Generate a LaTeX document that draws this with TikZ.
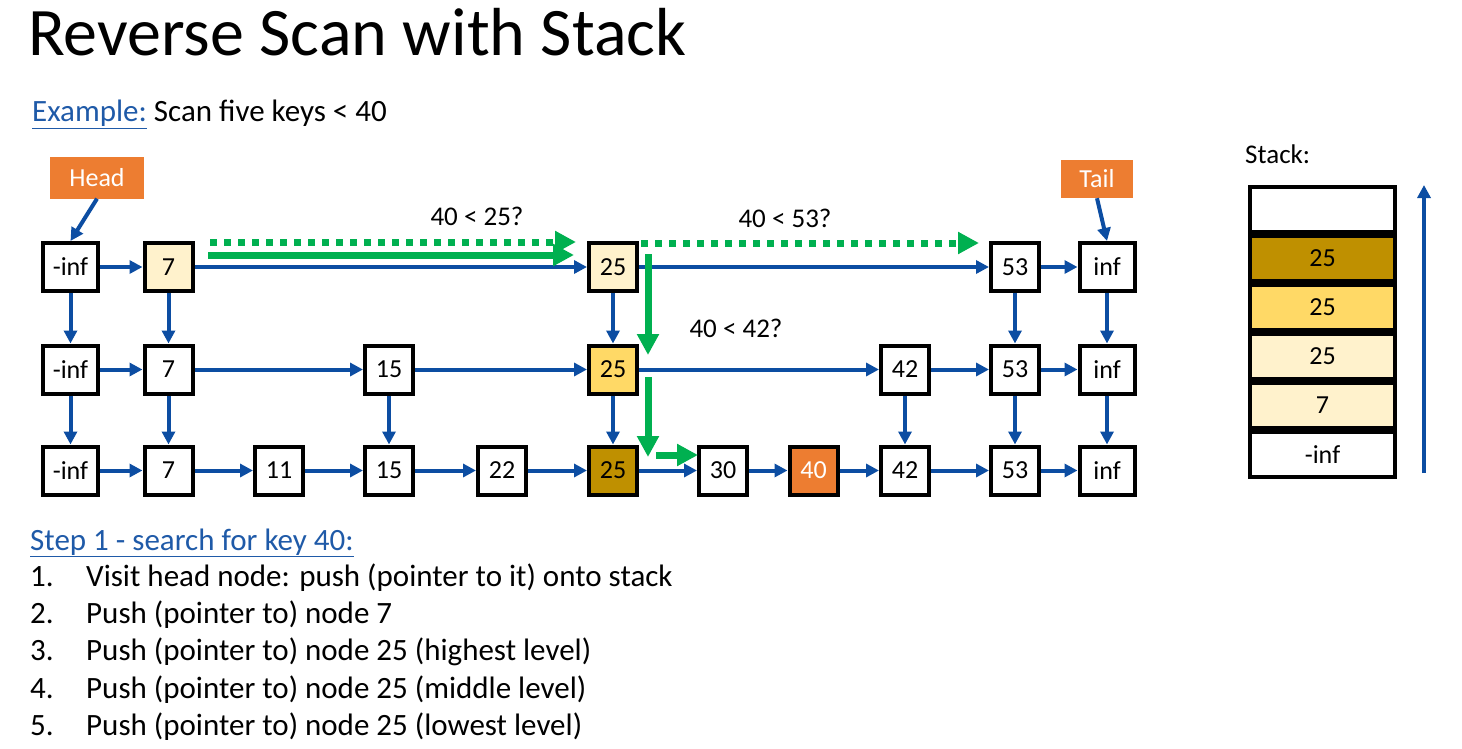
\documentclass[tikz,border=0pt]{standalone}
\usepackage{fontspec}
\setmainfont{Carlito}
\usetikzlibrary{arrows.meta}
\definecolor{lnk}{HTML}{0C4DA2}
\definecolor{ulblue}{HTML}{1F5AA8}
\definecolor{grn}{HTML}{00B050}
\definecolor{org}{HTML}{ED7D31}
\definecolor{pale}{HTML}{FFF2CC}
\definecolor{gold}{HTML}{FFD966}
\definecolor{dgold}{HTML}{BF9000}
\newcommand{\fs}[1]{\fontsize{#1}{#1}\selectfont}
\begin{document}
\begin{tikzpicture}[x=1pt,y=-1pt,
  key/.style={draw=black, line width=4pt, fill=white, minimum width=48pt,
    minimum height=48pt, inner sep=0pt, font=\fs{26}},
  wkey/.style={key, minimum width=55pt},
  tag/.style={fill=org, text=white, inner sep=0pt, font=\fs{26}},
  link/.style={draw=lnk, line width=4pt, -{Triangle[length=13pt,width=13pt]}},
  walk/.style={draw=grn, line width=7pt, -{Triangle[length=21pt,width=21pt]}},
  probe/.style={walk, dash pattern=on 7pt off 7pt},
  query/.style={font=\fs{27}, inner sep=0pt},
  cell/.style={draw=black, line width=4pt, minimum width=145pt, minimum height=45pt,
    inner sep=0pt, font=\fs{26}},
  txt/.style={anchor=base west, inner sep=0pt}]
\useasboundingbox (0,0) rectangle (1462,749);

% title and headings
\node[txt, font=\fs{68}] (title) at (28,56) {Reverse Scan with Stack};
\node[txt, font=\fs{31}] (ex) at (32,122) {{\color{ulblue}\underline{Example:}} Scan five keys < 40};

% top level
\node[wkey] (a1) at (70.5,267) {-inf};
\node[key, fill=pale] (b1) at (168.5,267) {7};
\node[key, fill=pale] (f1) at (613,267) {25};
\node[key] (j1) at (1015,267) {53};
\node[wkey] (k1) at (1107,267) {inf};
% middle level
\node[wkey] (a2) at (70.5,369.5) {-inf};
\node[key] (b2) at (168.5,369.5) {7};
\node[key] (d2) at (389,369.5) {15};
\node[key, fill=gold] (f2) at (613,369.5) {25};
\node[key] (i2) at (905,369.5) {42};
\node[key] (j2) at (1015,369.5) {53};
\node[wkey] (k2) at (1107,369.5) {inf};
% bottom level
\node[wkey] (a3) at (70.5,470.5) {-inf};
\node[key] (b3) at (168.5,470.5) {7};
\node[key] (c3) at (279,470.5) {11};
\node[key] (d3) at (389,470.5) {15};
\node[key] (e3) at (502,470.5) {22};
\node[key, fill=dgold] (f3) at (613,470.5) {25};
\node[key] (g3) at (723,470.5) {30};
\node[key, fill=org, text=white] (h3) at (813.5,470.5) {40};
\node[key] (i3) at (905,470.5) {42};
\node[key] (j3) at (1015,470.5) {53};
\node[wkey] (k3) at (1107,470.5) {inf};

% head / tail markers
\node[tag, minimum width=94pt, minimum height=41pt] (head) at (97,178) {Head};
\node[tag, minimum width=72pt, minimum height=38pt] (tail) at (1097,179) {Tail};
\draw[link] (head.south) -- (a1.north);
\draw[link] (tail.south) -- (k1.north);

% horizontal links
\foreach \u/\v in {a1/b1,b1/f1,f1/j1,j1/k1,
                   a2/b2,b2/d2,d2/f2,f2/i2,i2/j2,j2/k2,
                   a3/b3,b3/c3,c3/d3,d3/e3,e3/f3,f3/g3,g3/h3,h3/i3,i3/j3,j3/k3}
  \draw[link] (\u) -- (\v);
% vertical links
\foreach \u/\v in {a1/a2,a2/a3,b1/b2,b2/b3,d2/d3,f1/f2,f2/f3,i2/i3,j1/j2,j2/j3,k1/k2,k2/k3}
  \draw[link] (\u) -- (\v);

% search path
\coordinate (p1s) at (210,242);  \coordinate (p1e) at (576,242);
\coordinate (w1s) at (208,255);  \coordinate (w1e) at (574,255);
\coordinate (p2s) at (641,243);  \coordinate (p2e) at (979,243);
\coordinate (w2s) at (648,254);  \coordinate (w2e) at (648,355);
\coordinate (w3s) at (648,377);  \coordinate (w3e) at (648,457);
\coordinate (w4s) at (656,455);  \coordinate (w4e) at (698,455);
\draw[probe] (p1s) -- (p1e);
\draw[walk] (w1s) -- (w1e);
\draw[probe] (p2s) -- (p2e);
\draw[walk] (w2s) -- (w2e);
\draw[walk] (w3s) -- (w3e);
\draw[walk] (w4s) -- (w4e);

\node[query] (q1) at (477,216) {40 < 25?};
\node[query] (q2) at (785,218) {40 < 53?};
\node[query] (q3) at (736,328) {40 < 42?};

% stack
\node[txt, font=\fs{27}] (stk) at (1245,164) {Stack:};
\node[cell] (s6) at (1322.5,209.5) {};
\node[cell, fill=dgold] (s5) at (1322.5,258.5) {25};
\node[cell, fill=gold] (s4) at (1322.5,307.5) {25};
\node[cell, fill=pale] (s3) at (1322.5,356.5) {25};
\node[cell, fill=pale] (s2) at (1322.5,405.5) {7};
\node[cell] (s1) at (1322.5,454.5) {-inf};
\coordinate (up0) at (1424,473);
\coordinate (up1) at (1424,185);
\draw[link] (up0) -- (up1);

% steps
\node[txt, font=\fs{31}] (st0) at (30,550) {{\color{ulblue}\underline{Step 1 - search for key 40:}}};
\foreach \n/\t [count=\i] in {1/Visit head node: push (pointer to it) onto stack,
    2/Push (pointer to) node 7,
    3/Push (pointer to) node 25 (highest level),
    4/Push (pointer to) node 25 (middle level),
    5/Push (pointer to) node 25 (lowest level)} {
  \node[txt, font=\fs{31}] (num\i) at (30,549+37.3*\i) {\n.};
  \node[txt, font=\fs{31}] (line\i) at (86,549+37.3*\i) {\t};
}
\end{tikzpicture}
\end{document}
